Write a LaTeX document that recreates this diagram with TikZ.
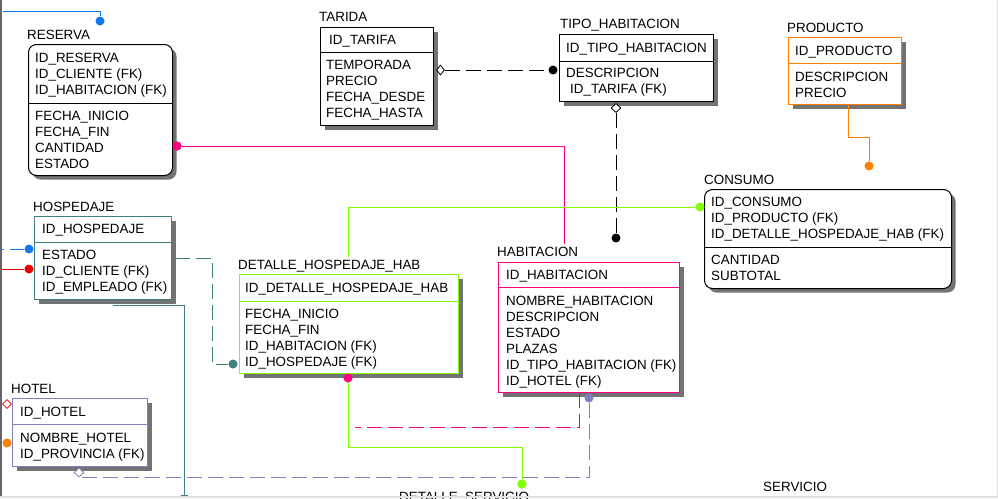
\documentclass[tikz,border=0pt]{standalone}
\usepackage{fontspec}
\setmainfont{Liberation Sans}
\usetikzlibrary{shadows,shapes.geometric}
\definecolor{pinkc}{RGB}{255,0,128}
\definecolor{greenc}{RGB}{128,255,0}
\definecolor{tealc}{RGB}{64,128,128}
\definecolor{purplec}{RGB}{128,128,192}
\definecolor{orangec}{RGB}{255,128,0}
\definecolor{bluec}{RGB}{20,120,240}
\definecolor{redc}{RGB}{235,0,0}
\tikzset{
  ent/.style={draw, line width=1pt, fill=white, inner sep=0pt, anchor=north west,
    drop shadow={shadow xshift=4pt, shadow yshift=-4pt, opacity=1, fill=black!55}},
  attr/.style={anchor=base west, inner sep=0pt, font=\fontsize{13.4}{16}\selectfont},
  dot/.style={circle, fill, inner sep=0pt, minimum size=9pt},
  dia/.style={diamond, draw, fill=white, inner sep=0pt, minimum width=9pt, minimum height=10pt, line width=0.8pt},
  conn/.style={line width=1pt},
  dconn/.style={line width=1pt, dash pattern=on 15pt off 6pt},
  sepline/.style={line width=1pt}
}
\newcommand{\rowsat}[4]{\foreach \t [count=\i] in {#4} {\node[attr] (#1\i) at (#2,{#3+16*(\i-1)}) {\t};}}
\begin{document}
\begin{tikzpicture}[x=1pt,y=-1pt]
\useasboundingbox (0,0) rectangle (998,498);
\fill[white] (0,0) rectangle (998,498);

% ---------- entity boxes ----------
% RESERVA
\node[ent, rounded corners=8pt, minimum width=144pt, minimum height=131pt] (reserva) at (28,44) {};
\draw[sepline] (reserva.west |- 0,103) -- (reserva.east |- 0,103);
\node[attr] (reservalbl) at (27,39) {RESERVA};
\rowsat{resk}{35}{62}{ID\_RESERVA, ID\_CLIENTE (FK), ID\_HABITACION (FK)}
\rowsat{resa}{35}{120}{FECHA\_INICIO, FECHA\_FIN, CANTIDAD, ESTADO}

% TARIDA
\node[ent, minimum width=113pt, minimum height=98pt] (tarida) at (320,27) {};
\draw[sepline] (tarida.west |- 0,52) -- (tarida.east |- 0,52);
\node[attr] (taridalbl) at (319,21) {TARIDA};
\rowsat{tark}{329}{44}{ID\_TARIFA}
\rowsat{tara}{326}{69}{TEMPORADA, PRECIO, FECHA\_DESDE, FECHA\_HASTA}

% TIPO_HABITACION
\node[ent, minimum width=154pt, minimum height=67pt] (tipo) at (559,34) {};
\draw[sepline] (tipo.west |- 0,61) -- (tipo.east |- 0,61);
\node[attr] (tipolbl) at (560,28) {TIPO\_HABITACION};
\rowsat{tipk}{566}{52}{ID\_TIPO\_HABITACION}
\rowsat{tipa}{566}{77}{DESCRIPCION}
\node[attr] (tipa2) at (570,93) {ID\_TARIFA (FK)};

% PRODUCTO
\node[ent, draw=orangec, minimum width=113pt, minimum height=67pt] (producto) at (788,37) {};
\draw[sepline, orangec] (producto.west |- 0,63) -- (producto.east |- 0,63);
\node[attr] (productolbl) at (787,32) {PRODUCTO};
\rowsat{prok}{795}{55}{ID\_PRODUCTO}
\rowsat{proa}{795}{81}{DESCRIPCION, PRECIO}

% CONSUMO
\node[ent, rounded corners=8pt, minimum width=247pt, minimum height=99pt] (consumo) at (704,189) {};
\draw[sepline] (consumo.west |- 0,247) -- (consumo.east |- 0,247);
\node[attr] (consumolbl) at (704,184) {CONSUMO};
\rowsat{conk}{711}{206}{ID\_CONSUMO, ID\_PRODUCTO (FK), ID\_DETALLE\_HOSPEDAJE\_HAB (FK)}
\rowsat{cona}{711}{264}{CANTIDAD, SUBTOTAL}

% HOSPEDAJE
\node[ent, draw=tealc, minimum width=137pt, minimum height=83pt] (hospedaje) at (34,216) {};
\draw[sepline, tealc] (hospedaje.west |- 0,242) -- (hospedaje.east |- 0,242);
\node[attr] (hospedajelbl) at (33,211) {HOSPEDAJE};
\rowsat{hosk}{42}{233}{ID\_HOSPEDAJE}
\rowsat{hosa}{42}{259}{ESTADO, ID\_CLIENTE (FK), ID\_EMPLEADO (FK)}

% DETALLE_HOSPEDAJE_HAB
\node[ent, draw=greenc, minimum width=219pt, minimum height=99pt] (detalle) at (239,274) {};
\draw[sepline, greenc] (detalle.west |- 0,301) -- (detalle.east |- 0,301);
\node[attr] (detallelbl) at (238,269) {DETALLE\_HOSPEDAJE\_HAB};
\rowsat{detk}{245}{292}{ID\_DETALLE\_HOSPEDAJE\_HAB}
\rowsat{deta}{245}{318}{FECHA\_INICIO, FECHA\_FIN, ID\_HABITACION (FK), ID\_HOSPEDAJE (FK)}

% HABITACION
\node[ent, draw=pinkc, minimum width=181pt, minimum height=130pt] (habitacion) at (498,262) {};
\draw[sepline, pinkc] (habitacion.west |- 0,287) -- (habitacion.east |- 0,287);
\node[attr] (habitacionlbl) at (497,256) {HABITACION};
\rowsat{habk}{506}{279}{ID\_HABITACION}
\rowsat{haba}{506}{305}{NOMBRE\_HABITACION, DESCRIPCION, ESTADO, PLAZAS, ID\_TIPO\_HABITACION (FK), ID\_HOTEL (FK)}

% HOTEL
\node[ent, draw=purplec, minimum width=135pt, minimum height=68pt] (hotel) at (12,398) {};
\draw[sepline, purplec] (hotel.west |- 0,424) -- (hotel.east |- 0,424);
\node[attr] (hotellbl) at (11,393) {HOTEL};
\rowsat{hotk}{20}{416}{ID\_HOTEL}
\rowsat{hota}{20}{442}{NOMBRE\_HOTEL, ID\_PROVINCIA (FK)}

% Partial labels
\node[attr] (servicio) at (763,491) {SERVICIO};
\node[attr] (detserv) at (399,501.5) {DETALLE\_SERVICIO};

% ---------- markers ----------
\node[dot, bluec] (dblue1) at (100,21) {};
\node[dot, pinkc] (dpink1) at (177,146) {};
\node[dia, minimum width=8pt, minimum height=10pt] (dia1) at (440.5,70) {};
\node[dot] (dblk1) at (553,70) {};
\node[dia, minimum width=10pt, minimum height=9pt] (dia2) at (616,108) {};
\node[dot] (dblk2) at (616,238) {};
\node[dot, orangec] (dor1) at (869,166) {};
\node[dot, greenc] (dgr1) at (700,207) {};
\node[dot, bluec] (dbl2) at (29,249) {};
\node[dot, redc] (drd) at (29,269) {};
\node[dot, tealc] (dtl) at (233,364) {};
\node[dot, greenc] (dgr2) at (522,484) {};
\node[dot, purplec] (dpu) at (589,398) {};
\node[dia, draw=purplec, fill=white, minimum width=10pt, minimum height=9pt] (dia3) at (79,472.5) {};
\node[dia, draw=redc, fill=white, minimum width=9pt, minimum height=9pt] (dia4) at (7,404) {};
\node[dot, orangec] (dor2) at (7,443) {};

% ---------- free ends ----------
\coordinate (bluestart) at (3,11);
\coordinate (habtop) at (564,244);
\coordinate (prodbot) at (848,104);
\coordinate (dettop) at (348,257);
\coordinate (bl2) at (0,249);
\coordinate (rd2) at (0,269);
\coordinate (hosp1) at (175,258);
\coordinate (tl1) at (113,305);
\coordinate (tl2) at (184,495);
\coordinate (hb2) at (579,393);
\coordinate (pk3) at (355,427);
\coordinate (detbot) at (348,373);

% ---------- connectors ----------
\draw[conn, bluec] (bluestart) -| (dblue1);
\draw[conn, pinkc] (dpink1) -| (habtop);
\draw[dconn] (dia1) -- (dblk1);
\draw[dconn] (dia2) -- (dblk2);
\draw[conn, orangec] (prodbot) -- (848,137) -| (dor1);
\draw[conn, greenc] (dgr1) -| (dettop);
\draw[conn, bluec, dash pattern=on 17pt off 6pt, dash phase=13pt] (bl2) -- (dbl2);
\draw[conn, redc] (rd2) -- (drd);
\draw[dconn, tealc] (hosp1) -- (212,258) |- (dtl);
\draw[conn, tealc] (tl1) -| (tl2) ++(-3.5,0) -- ++(7,0);
\draw[dconn, pinkc] (hb2) |- (pk3);
\draw[conn, greenc] (detbot) -- (348,447) -| (dgr2);
\draw[dconn, purplec] (dpu) |- (dia3.south);

% redraw markers on top
\node[dot, pinkc] at (dpink1) {};
\node[dot, greenc] at (dgr2) {};
\node[dot, pinkc] (dpk2) at (348,378) {};

% ---------- window frame ----------
\fill[black!60] (0,0) rectangle (2,498);
\fill[black!12] (0,495.5) rectangle (998,498);
\fill[black!12] (996.5,0) rectangle (998,498);
\end{tikzpicture}
\end{document}
